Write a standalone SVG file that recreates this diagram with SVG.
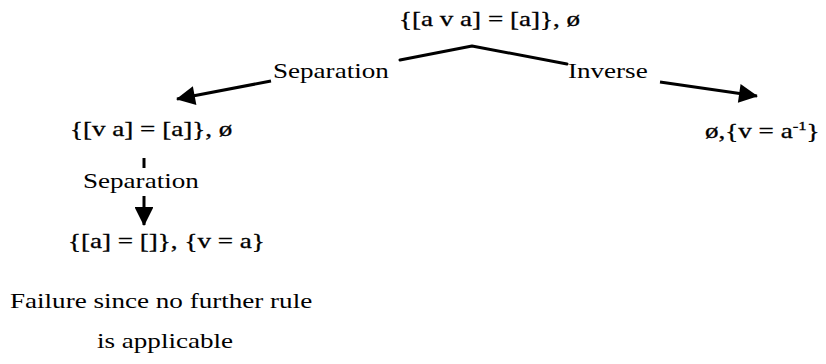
<svg xmlns="http://www.w3.org/2000/svg" width="826" height="364" viewBox="0 0 826 364">
  <style>
    text { font-family: "Liberation Serif", "Times New Roman", serif; font-size: 21px; fill: #000; }
    .node text { stroke: #000; stroke-width: 0.3; }
    .edge { fill: none; stroke: #000; stroke-width: 3; stroke-linecap: round; stroke-linejoin: round; }
    .arr { fill: none; stroke: #000; stroke-width: 3; stroke-linecap: butt; }
    .tick { fill: none; stroke: #000; stroke-width: 3; }
  </style>
  <defs>
    <marker id="arrow" viewBox="0 0 10 10" refX="9.5" refY="5" markerWidth="7" markerHeight="6.3" markerUnits="strokeWidth" orient="auto">
      <path d="M0,0 L10,5 L0,10 Z" fill="#000"/>
    </marker>
  </defs>

  <rect width="826" height="364" fill="#fff"/>

  <!-- connectors -->
  <g id="connectors">
    <!-- roof over the root, split into the two rule branches -->
    <polyline class="edge" points="400,60 472,46 567,64"/>
    <!-- Separation branch -->
    <line class="arr" x1="271" y1="81" x2="177" y2="99" marker-end="url(#arrow)"/>
    <!-- Inverse branch -->
    <line class="arr" x1="660" y1="82" x2="757" y2="96" marker-end="url(#arrow)"/>
    <!-- left child down to the failing leaf -->
    <line class="tick" x1="144" y1="158" x2="144" y2="168"/>
    <line class="arr" x1="144" y1="196" x2="144" y2="225" marker-end="url(#arrow)"/>
  </g>

  <!-- rule labels on the connectors -->
  <g id="labels">
    <text transform="translate(273,78) scale(1.29,1)">Separation</text>
    <text transform="translate(568,78) scale(1.29,1)">Inverse</text>
    <text transform="translate(83,188) scale(1.29,1)">Separation</text>
  </g>

  <g id="root" class="node">
    <text transform="translate(399,26) scale(1.29,1)">{[a v a] = [a]}, ø</text>
  </g>

  <g id="left" class="node">
    <text transform="translate(70,136) scale(1.29,1)">{[v a] = [a]}, ø</text>
  </g>

  <g id="right" class="node">
    <text transform="translate(705,138) scale(1.29,1)">ø,{v = a<tspan dy="-8" font-size="13">-1</tspan><tspan dy="8">}</tspan></text>
  </g>

  <g id="leaf" class="node">
    <text transform="translate(68,248) scale(1.29,1)">{[a] = []}, {v = a}</text>
  </g>

  <g id="failure">
    <text transform="translate(10,308) scale(1.29,1)">Failure since no further rule</text>
    <text transform="translate(97,348) scale(1.29,1)">is applicable</text>
  </g>
</svg>
